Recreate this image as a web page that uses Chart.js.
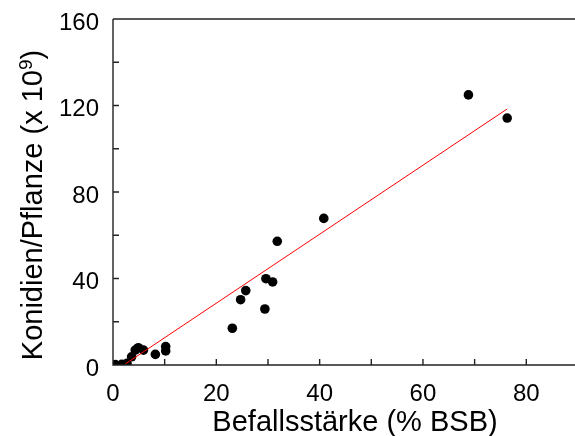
<!DOCTYPE html>
<html>
<head>
<meta charset="utf-8">
<script src="https://cdn.jsdelivr.net/npm/chart.js@4/dist/chart.umd.min.js"></script>
<style>
  html, body { margin: 0; padding: 0; background: #fff; }
  canvas { display: block; }
</style>
</head>
<body>
<canvas id="c" width="575" height="436"></canvas>
<script>
// Befallsstärke vs. Konidien pro Pflanze
const befall   = [0.44, 1.7, 2.7, 3.6, 4.3, 4.9, 5.9, 8.2, 10.2, 10.2, 23.1, 24.7, 25.7, 29.4, 29.6, 30.9, 31.8, 40.8, 68.8, 76.3];
const konidien = [0.2, 0.3, 0.8, 3.8, 6.9, 8.0, 6.9, 4.9, 8.5, 6.5, 17.0, 30.2, 34.4, 25.9, 39.9, 38.4, 57.2, 67.8, 124.9, 114.2];

// Regressionsgerade (Endpunkte)
const fitX = [2.4, 76.3];
const fitY = [0.5, 118.4];

const xTicks = [0, 10, 20, 30, 40, 50, 60, 70, 80];
const yTicks = [0, 20, 40, 60, 80, 100, 120, 140, 160];
const xLabels = [0, 20, 40, 60, 80];
const yLabels = [0, 40, 80, 120, 160];

const FONT = '"Liberation Sans", Arial, sans-serif';

const axesPlugin = {
  id: 'axes',
  afterDraw(chart) {
    const ctx = chart.ctx;
    const a = chart.chartArea;
    const xs = chart.scales.x, ys = chart.scales.y;
    const L = a.left, B = a.bottom, T = a.top;
    ctx.save();
    ctx.strokeStyle = '#222';
    ctx.lineWidth = 1.4;
    ctx.beginPath();
    ctx.moveTo(L, T); ctx.lineTo(L, B); ctx.lineTo(chart.width, B);
    ctx.moveTo(L, T); ctx.lineTo(chart.width, T);
    // inward ticks
    xs.ticks.forEach(t => {
      const px = xs.getPixelForValue(t.value);
      ctx.moveTo(px, B); ctx.lineTo(px, B - 6);
    });
    ys.ticks.forEach(t => {
      const py = ys.getPixelForValue(t.value);
      ctx.moveTo(L, py); ctx.lineTo(L + 6, py);
    });
    ctx.stroke();

    // axis titles
    ctx.fillStyle = '#000';
    ctx.font = '29px ' + FONT;
    ctx.textAlign = 'center';
    ctx.textBaseline = 'alphabetic';
    ctx.fillText('Befallsstärke (% BSB)', 355, 431);

    ctx.translate(42, 205);
    ctx.rotate(-Math.PI / 2);
    const main = 'Konidien/Pflanze (x 10', sup = '9', tail = ')';
    ctx.font = '29px ' + FONT;
    const wMain = ctx.measureText(main).width, wTail = ctx.measureText(tail).width;
    ctx.font = '19px ' + FONT;
    const wSup = ctx.measureText(sup).width;
    const x0 = -(wMain + wSup + wTail) / 2;
    ctx.textAlign = 'left';
    ctx.font = '29px ' + FONT;
    ctx.fillText(main, x0, 0);
    ctx.font = '19px ' + FONT;
    ctx.fillText(sup, x0 + wMain, -10);
    ctx.font = '29px ' + FONT;
    ctx.fillText(tail, x0 + wMain + wSup, 0);
    ctx.restore();
  }
};

new Chart(document.getElementById('c'), {
  type: 'scatter',
  data: {
    datasets: [
      {
        type: 'line',
        data: fitX.map((x, i) => ({ x, y: fitY[i] })),
        borderColor: '#ff0000',
        borderWidth: 1,
        pointRadius: 0,
        fill: false
      },
      {
        data: befall.map((x, i) => ({ x, y: konidien[i] })),
        backgroundColor: '#000',
        borderColor: '#000',
        pointRadius: 4.8,
        borderWidth: 0
      }
    ]
  },
  options: {
    responsive: false,
    animation: false,
    events: [],
    layout: { padding: { top: 19, right: 0, left: 0, bottom: 0 } },
    plugins: { legend: { display: false }, tooltip: { enabled: false } },
    scales: {
      x: {
        type: 'linear', min: 0, max: 88.5,
        afterBuildTicks: s => { s.ticks = xTicks.map(v => ({ value: v })); },
        afterFit: s => { s.height = 71; s.paddingLeft = 0; s.paddingRight = 0; },
        grid: { display: false, drawTicks: false },
        border: { display: false },
        ticks: {
          padding: 15,
          maxRotation: 0,
          autoSkip: false,
          color: '#000',
          font: { family: FONT, size: 24 },
          callback: v => xLabels.includes(v) ? String(v) : ''
        }
      },
      y: {
        type: 'linear', min: 0, max: 160,
        afterBuildTicks: s => { s.ticks = yTicks.map(v => ({ value: v })); },
        afterFit: s => { s.width = 113; s.paddingTop = 0; s.paddingBottom = 0; },
        grid: { display: false, drawTicks: false },
        border: { display: false },
        ticks: {
          padding: 14,
          labelOffset: 4,
          autoSkip: false,
          color: '#000',
          font: { family: FONT, size: 24 },
          callback: v => yLabels.includes(v) ? String(v) : ''
        }
      }
    }
  },
  plugins: [axesPlugin]
});
</script>
</body>
</html>
